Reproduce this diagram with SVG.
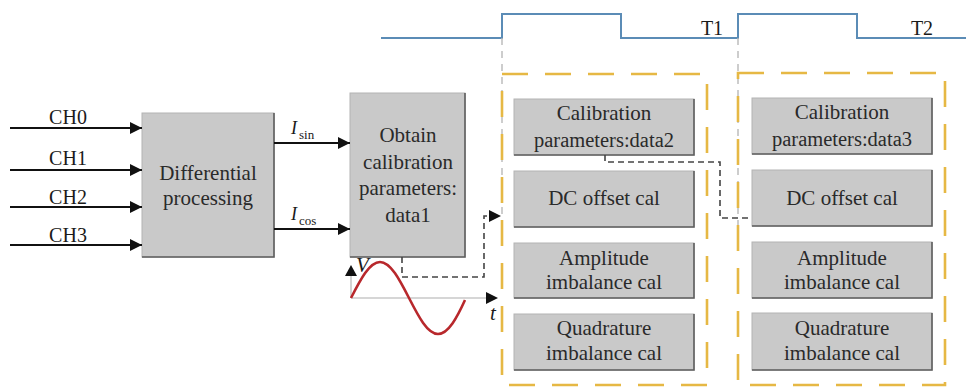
<svg xmlns="http://www.w3.org/2000/svg" width="966" height="388" viewBox="0 0 966 388">
  <style>
    .box { fill: #c9c9c9; stroke: #b4b4b4; stroke-width: 1; }
    .edge { fill: none; stroke: #5e5e5e; stroke-width: 1.6; }
    .lbl { font-family: 'Liberation Serif', 'Times New Roman', serif; font-size: 21px; fill: #2a2a2a; text-anchor: middle; }
    .ch { font-family: 'Liberation Serif', 'Times New Roman', serif; font-size: 20px; fill: #1a1a1a; text-anchor: middle; }
    .it { font-family: 'Liberation Serif', 'Times New Roman', serif; font-style: italic; font-size: 21px; fill: #1a1a1a; }
    .sub { font-family: 'Liberation Serif', 'Times New Roman', serif; font-size: 13px; fill: #1a1a1a; }
    .wire { fill: none; stroke: #111; stroke-width: 2; }
    .dash { fill: none; stroke: #444; stroke-width: 1.6; stroke-dasharray: 6 4; }
    .frame { fill: none; stroke: #e6b844; stroke-width: 2.6; stroke-dasharray: 26 17; }
    .guide { fill: none; stroke: #b8b8b8; stroke-width: 1.4; stroke-dasharray: 7 6; }
    .clock { fill: none; stroke: #5b8cb6; stroke-width: 2; }
    .axis { fill: none; stroke: #c8c8c8; stroke-width: 1.6; }
  </style>
  <defs>
    <marker id="arrow" viewBox="0 0 12 12" refX="12" refY="6" markerWidth="12" markerHeight="12" markerUnits="userSpaceOnUse" orient="auto">
      <path d="M0,0 L12,6 L0,12 Z" fill="#111"/>
    </marker>
  </defs>

  <rect width="966" height="388" fill="#ffffff"/>

  <!-- clock waveform with periods T1 and T2 -->
  <g id="clock">
    <path class="clock" d="M381,38 H502 V14 H621 V38 H738 V14 H857 V38 H966"/>
    <text class="ch" x="712" y="35">T1</text>
    <text class="ch" x="922" y="35">T2</text>
    <path class="guide" d="M502,38 V232"/>
    <path class="guide" d="M738,38 V232"/>
  </g>

  <!-- calibration window frames -->
  <g id="frame-t1">
    <rect class="frame" x="502" y="74" width="205" height="311"/>
  </g>
  <g id="frame-t2">
    <rect class="frame" x="738" y="73" width="207" height="312"/>
  </g>

  <!-- signal plot: V vs t -->
  <g id="sine-plot">
    <path class="axis" d="M351,298 H488"/>
    <path class="axis" d="M351,298 V276"/>
    <path d="M351,265 L357,276 L345,276 Z" fill="#111"/>
    <path d="M498,298 L486,292 L486,304 Z" fill="#111"/>
    <path d="M351,298 C360.5,279.5 369.5,262 380,262 C390.5,262 399.5,279.5 409,298 C418.5,316.5 427.5,334 438,334 C448.5,334 457.5,316.5 465,300" fill="none" stroke="#b8282c" stroke-width="2.6"/>
    <text class="it" x="356" y="272">V</text>
    <text class="it" x="490" y="320">t</text>
  </g>

  <!-- input channels -->
  <g id="inputs">
    <text class="ch" x="68" y="124">CH0</text>
    <text class="ch" x="68" y="165">CH1</text>
    <text class="ch" x="68" y="204">CH2</text>
    <text class="ch" x="68" y="242">CH3</text>
  </g>

  <g id="differential">
    <rect class="box" x="142" y="113" width="132" height="144"/>
    <path class="edge" d="M274,113 V257 H142"/>
    <text class="lbl" x="208" y="180">Differential</text>
    <text class="lbl" x="208" y="205">processing</text>
  </g>

  <g id="obtain">
    <rect class="box" x="350" y="93" width="115" height="164"/>
    <path class="edge" d="M465,93 V257 H350"/>
    <text class="lbl" x="408" y="142">Obtain</text>
    <text class="lbl" x="408" y="169">calibration</text>
    <text class="lbl" x="408" y="195">parameters:</text>
    <text class="lbl" x="408" y="222">data1</text>
  </g>

  <!-- T1 stage -->
  <g id="t1-params">
    <rect class="box" x="514" y="99" width="180" height="56"/>
    <path class="edge" d="M694,99 V155 H514"/>
    <text class="lbl" x="604" y="120">Calibration</text>
    <text class="lbl" x="604" y="147" style="font-size:20.5px">parameters:data2</text>
  </g>
  <g id="t1-dc">
    <rect class="box" x="514" y="171" width="180" height="56"/>
    <path class="edge" d="M694,171 V227 H514"/>
    <text class="lbl" x="604" y="205">DC offset cal</text>
  </g>
  <g id="t1-amp">
    <rect class="box" x="514" y="243" width="180" height="55"/>
    <path class="edge" d="M694,243 V298 H514"/>
    <text class="lbl" x="604" y="265">Amplitude</text>
    <text class="lbl" x="604" y="289">imbalance cal</text>
  </g>
  <g id="t1-quad">
    <rect class="box" x="514" y="314" width="180" height="56"/>
    <path class="edge" d="M694,314 V370 H514"/>
    <text class="lbl" x="604" y="335">Quadrature</text>
    <text class="lbl" x="604" y="360">imbalance cal</text>
  </g>

  <!-- T2 stage -->
  <g id="t2-params">
    <rect class="box" x="752" y="98" width="180" height="56"/>
    <path class="edge" d="M932,98 V154 H752"/>
    <text class="lbl" x="842" y="119">Calibration</text>
    <text class="lbl" x="842" y="146" style="font-size:20.5px">parameters:data3</text>
  </g>
  <g id="t2-dc">
    <rect class="box" x="752" y="170" width="180" height="56"/>
    <path class="edge" d="M932,170 V226 H752"/>
    <text class="lbl" x="842" y="205">DC offset cal</text>
  </g>
  <g id="t2-amp">
    <rect class="box" x="752" y="242" width="180" height="56"/>
    <path class="edge" d="M932,242 V298 H752"/>
    <text class="lbl" x="842" y="265">Amplitude</text>
    <text class="lbl" x="842" y="289">imbalance cal</text>
  </g>
  <g id="t2-quad">
    <rect class="box" x="752" y="313" width="180" height="57"/>
    <path class="edge" d="M932,313 V370 H752"/>
    <text class="lbl" x="842" y="335">Quadrature</text>
    <text class="lbl" x="842" y="360">imbalance cal</text>
  </g>

  <!-- connectors -->
  <g id="connectors">
    <path class="wire" d="M10,128 H142" marker-end="url(#arrow)"/>
    <path class="wire" d="M10,170 H142" marker-end="url(#arrow)"/>
    <path class="wire" d="M10,207 H142" marker-end="url(#arrow)"/>
    <path class="wire" d="M10,245 H142" marker-end="url(#arrow)"/>
    <path class="wire" d="M274,143 H350" marker-end="url(#arrow)"/>
    <path class="wire" d="M274,229 H350" marker-end="url(#arrow)"/>
    <text class="it" x="291" y="134" style="font-size:18px">I</text>
    <text class="sub" x="299" y="139">sin</text>
    <text class="it" x="291" y="220" style="font-size:18px">I</text>
    <text class="sub" x="299" y="225">cos</text>
    <path class="dash" d="M402,257 V277 H484 V216 H490"/>
    <path d="M501,216 L489,210 L489,222 Z" fill="#111"/>
    <path class="dash" d="M605,155 V162 H720 V218 H752"/>
  </g>
</svg>
